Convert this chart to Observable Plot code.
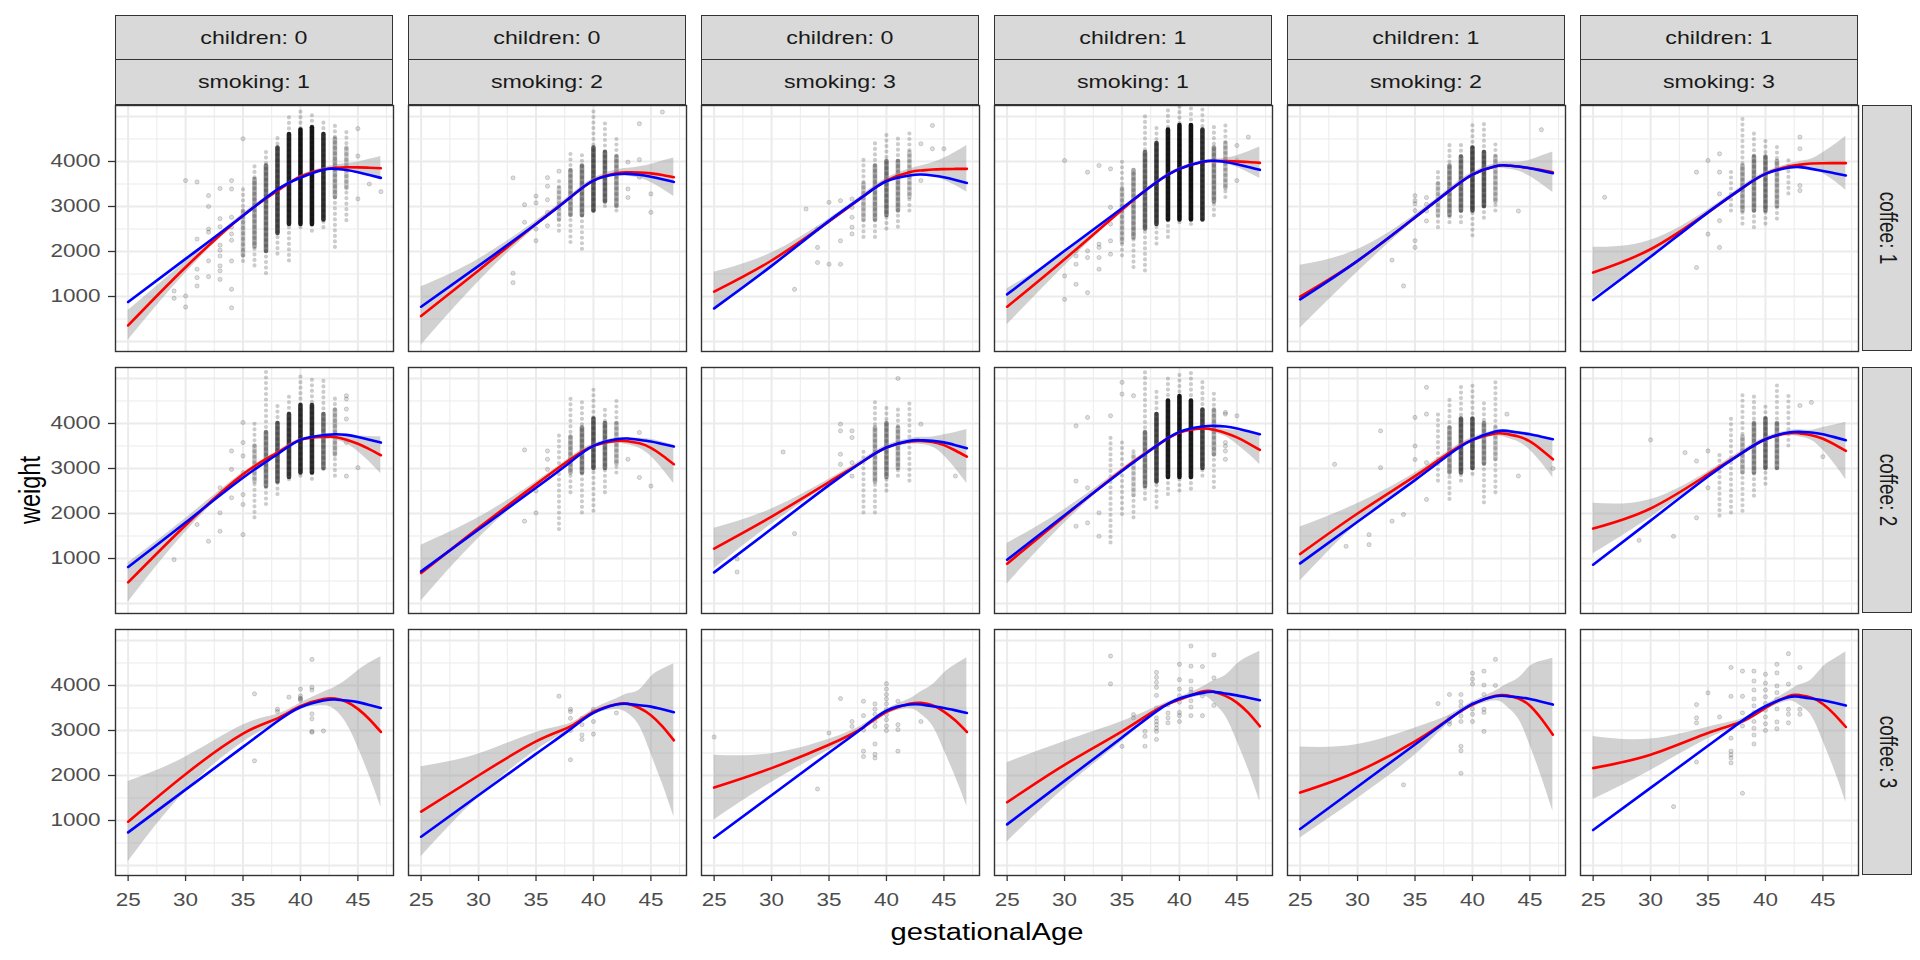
<!DOCTYPE html>
<html>
<head>
<meta charset="utf-8">
<script src="https://cdn.jsdelivr.net/npm/d3@7"></script>
<script src="https://cdn.jsdelivr.net/npm/@observablehq/plot@0.6"></script>
<style>
  body { margin: 0; background: #fff; font-family: "Liberation Sans", Arial, sans-serif; }
  #wrap { position: relative; width: 1920px; height: 960px; overflow: hidden; }
  #wrap svg { position: absolute; left: 0; top: 0; }
  .strip { position: absolute; box-sizing: border-box; background: #d9d9d9; border: 1.3px solid #333;
           color: #1a1a1a; font-size: 19px; display: flex; align-items: center; justify-content: center; white-space: nowrap; }
  .strip span { display: inline-block; transform: scaleX(1.22); }
  .strip.v span { transform: rotate(90deg) scaleY(1.22); }
  .title { position: absolute; font-size: 23.5px; color: #000; white-space: nowrap; }
</style>
</head>
<body>
<div id="wrap"></div>
<script>
// ---------- facet levels ----------
const childrenLevels = [0, 0, 0, 1, 1, 1];
const smokingLevels  = [1, 2, 3, 1, 2, 3];
const coffeeLevels   = [1, 2, 3];

// ---------- axis ticks ----------
const xTicks = [25, 30, 35, 40, 45];
const xMinor = [27.5, 32.5, 37.5, 42.5, 47.5];
const yTicks = [1000, 2000, 3000, 4000];
const yMajorGrid = [0, 1000, 2000, 3000, 4000, 5000];
const yMinorGrid = [500, 1500, 2500, 3500, 4500];

// ---------- fitted curves (panel order: coffee row, then children/smoking column) ----------
const weeks = [25, 30, 35, 38, 40, 42, 43, 44, 45, 46, 47];
const redFit = [
  [357,1650,2800,3350,3665,3822,3860,3873,3870,3862,3851],
  [565,1580,2610,3204,3576,3740,3760,3755,3735,3700,3650],
  [1108,1800,2670,3230,3576,3762,3800,3822,3830,3835,3836],
  [773,1829,2930,3539,3836,3990,4010,4010,4000,3988,3970],
  [996,1792,2758,3353,3710,3896,3911,3888,3850,3810,3760],
  [1532,2050,2870,3413,3725,3889,3930,3955,3962,3964,3963],
  [468,1740,2870,3353,3636,3700,3700,3640,3550,3430,3294],
  [677,1680,2647,3204,3502,3613,3605,3560,3460,3290,3093],
  [1220,1930,2700,3167,3465,3599,3613,3590,3520,3400,3264],
  [885,1940,2960,3502,3799,3889,3860,3790,3690,3560,3413],
  [1100,2000,2830,3353,3636,3777,3765,3710,3600,3415,3204],
  [1665,2111,2870,3353,3650,3784,3780,3740,3660,3535,3390],
  [974,2030,2930,3270,3539,3700,3710,3640,3480,3250,2967],
  [1197,2000,2758,3093,3413,3585,3595,3500,3340,3090,2781],
  [1732,2164,2684,3071,3413,3591,3613,3560,3420,3220,2967],
  [1405,2238,2981,3465,3688,3865,3860,3770,3620,3390,3093],
  [1621,2089,2758,3264,3576,3770,3780,3710,3550,3260,2907],
  [2164,2461,2944,3204,3502,3762,3784,3730,3590,3360,3078]
];
const blueFit = [
  [877,1836,2796,3380,3640,3815,3836,3810,3760,3700,3636],
  [773,1680,2610,3204,3576,3715,3725,3705,3660,3605,3545],
  [736,1680,2680,3230,3560,3690,3710,3690,3650,3590,3524],
  [1048,2015,2960,3539,3836,3995,4015,3990,3940,3880,3814],
  [937,1792,2758,3353,3710,3896,3911,3888,3850,3797,3740],
  [922,1882,2870,3413,3725,3859,3874,3836,3790,3740,3688],
  [810,1800,2795,3316,3636,3740,3762,3747,3700,3640,3576],
  [714,1643,2572,3145,3502,3650,3665,3636,3600,3545,3487],
  [691,1660,2630,3167,3465,3613,3628,3613,3580,3518,3450],
  [974,1960,2944,3502,3814,3933,3948,3933,3890,3828,3762],
  [892,1817,2742,3316,3636,3822,3836,3799,3760,3707,3650],
  [862,1842,2822,3353,3650,3799,3814,3799,3760,3697,3628],
  [736,1686,2636,3206,3517,3665,3688,3665,3630,3568,3502],
  [639,1560,2480,3030,3390,3576,3591,3561,3530,3470,3405],
  [617,1562,2507,3074,3442,3576,3576,3539,3500,3447,3390],
  [914,1880,2845,3425,3710,3836,3859,3822,3780,3728,3673],
  [810,1750,2690,3256,3591,3762,3762,3740,3700,3640,3576],
  [788,1724,2660,3220,3539,3740,3747,3710,3670,3614,3554]
];
const bandHalf = [
  [330,130,45,35,30,40,55,80,120,185,260],
  [650,250,70,50,50,70,90,130,200,310,430],
  [430,170,60,50,50,70,100,150,240,370,520],
  [400,150,40,30,30,30,40,60,130,230,350],
  [700,250,60,50,50,60,80,100,180,310,450],
  [560,200,60,50,40,50,70,100,230,400,600],
  [440,150,40,30,30,40,60,90,170,280,410],
  [620,230,60,45,45,60,80,110,190,300,430],
  [450,170,60,50,50,60,80,110,230,400,600],
  [450,150,40,30,30,40,60,80,150,235,330],
  [600,220,70,50,50,60,90,120,190,290,410],
  [560,200,60,50,45,55,80,110,250,430,640],
  [890,380,190,90,70,150,250,480,850,1250,1670],
  [1000,480,200,70,60,120,220,400,850,1270,1700],
  [720,320,120,60,60,110,250,450,850,1240,1650],
  [880,520,220,60,50,100,250,450,850,1250,1670],
  [1010,600,300,80,60,110,250,450,870,1280,1700],
  [700,350,130,60,55,110,230,400,820,1230,1670]
];

// ---------- observations: isolated points [week, weight] ----------
const scatterPoints = [
  [[29,1123],[29,960],[30,3576],[30,1011],[30,766],[31,3546],[31,2275],[31,1606],[31,1420],[31,1234],[32,3242],[32,3000],[32,2500],[32,2430],[32,1792],[32,1440],[33,3400],[33,2730],[33,2550],[33,2140],[33,2030],[33,1900],[33,1680],[33,1570],[33,1380],[34,3576],[34,3390],[34,2760],[34,2540],[34,2390],[34,2250],[34,1790],[34,1160],[34,750],[35,4505],[45,4730],[45,4120],[45,3170],[46,3500],[47,3330]],
  [[33,3636],[33,1517],[33,1308],[34,3040],[34,2650],[35,3230],[35,3080],[35,2500],[35,2240],[36,3640],[36,3450],[36,3150],[36,2870],[36,2570],[37,3784],[43,3390],[43,3200],[43,3985],[44,4840],[44,4040],[44,3650],[45,3280],[45,2870],[46,5100]],
  [[32,1160],[33,2944],[34,2498],[34,2090],[34,1755],[35,3093],[35,1717],[36,3130],[36,2238],[36,1717],[37,3167],[37,2980],[37,2760],[37,2540],[37,2390],[43,4394],[43,3576],[44,4800],[44,4283],[45,4283]],
  [[30,4022],[30,1457],[30,937],[31,2015],[31,1900],[31,1717],[31,1271],[32,3762],[32,2015],[32,1866],[32,1085],[33,3911],[33,2164],[33,2090],[33,1866],[33,1606],[34,3836],[34,2980],[34,2610],[34,2238],[34,1940],[45,4355],[45,4022],[45,3576],[46,4543]],
  [[33,1807],[34,1234],[35,3240],[35,3130],[35,3060],[35,2910],[35,2240],[35,2090],[36,3200],[36,3050],[36,2900],[36,2680],[44,2900],[46,4706]],
  [[26,3204],[34,3762],[34,1643],[35,4022],[35,2386],[36,4171],[36,3762],[36,3280],[36,2684],[36,2090],[43,4543],[43,4283],[43,3465],[43,3353]],
  [[29,974],[31,1755],[32,1383],[33,2572],[33,2015],[33,1606],[34,3390],[34,2980],[34,2350],[35,4022],[35,3576],[35,3280],[35,2910],[35,2420],[35,2200],[35,1532],[44,4617],[44,4543],[44,4320],[44,4100],[44,3576],[44,2830],[45,3019]],
  [[34,3413],[34,1829],[35,2500],[35,2015],[36,3390],[36,3204],[36,2980],[36,2800],[43,3204],[44,3800],[44,2800],[45,2610]],
  [[27,989],[27,700],[31,3368],[32,1554],[36,3985],[36,3836],[36,3316],[36,3093],[37,3836],[37,3688],[37,3130],[37,2830],[41,5000],[43,3985],[46,2833]],
  [[31,3948],[31,2721],[31,1717],[32,4134],[32,2572],[32,1792],[33,2015],[33,1494],[34,4171],[35,4914],[35,4654],[36,4617],[44,4245],[44,4208],[44,3576],[44,3500],[44,3390],[44,3204],[45,4171]],
  [[28,3093],[29,1271],[31,1530],[31,1308],[32,3836],[32,3019],[33,1829],[34,1978],[35,4134],[35,3500],[35,3200],[35,2800],[36,4803],[36,4208],[36,3130],[36,2312],[43,4208],[44,2833],[47,3000]],
  [[29,1405],[30,3636],[32,1494],[33,3353],[34,3167],[34,1903],[35,3390],[35,2572],[43,4400],[44,4468],[45,3264]],
  [[36,3814],[36,2327],[38,3470],[38,3420],[39,3740],[40,3920],[40,3770],[40,3720],[40,3700],[40,3670],[41,4580],[41,3960],[41,3900],[41,3370],[41,3260],[41,2980],[41,2960],[42,2990]],
  [[37,3762],[38,3470],[38,3420],[38,3270],[38,3000],[38,2350],[39,3270],[39,3130],[39,2900],[39,2800],[40,3470],[40,3420],[40,3200],[40,2920],[42,3390]],
  [[25,2855],[34,1700],[35,2944],[36,3710],[37,3200],[37,3090],[38,3650],[38,3330],[38,3010],[38,2540],[38,2420],[39,3590],[39,3470],[39,3360],[39,3200],[39,3090],[39,2700],[39,2470],[39,2390],[40,4040],[40,3920],[40,3800],[40,3700],[40,3590],[40,3470],[40,3350],[40,3240],[40,3100],[40,3000],[41,3650],[41,3130],[41,3020],[41,2540],[43,3200]],
  [[34,4654],[34,4037],[35,2647],[36,3353],[36,3280],[37,2980],[37,2870],[37,2650],[38,4290],[38,4180],[38,4070],[38,3960],[38,3780],[38,3500],[38,3280],[38,3200],[38,3130],[38,3050],[38,2980],[38,2800],[39,3570],[39,3390],[39,3280],[39,3170],[40,4470],[40,4130],[40,3920],[40,3770],[40,3630],[40,3400],[40,3330],[40,3200],[41,4877],[41,4430],[41,4100],[41,3920],[41,3850],[41,3660],[41,3520],[41,3330],[42,4420],[42,3770],[42,3330],[43,4680],[43,4170],[43,3560]],
  [[34,1792],[37,3599],[38,3800],[38,3280],[38,3200],[38,3140],[39,3800],[39,3640],[39,3540],[39,3430],[39,3320],[39,3200],[39,2650],[39,2550],[39,2050],[40,4270],[40,4140],[40,4030],[40,3590],[40,3480],[40,3360],[40,3200],[41,4320],[41,4010],[41,3800],[41,3470],[41,3400],[41,2980],[42,4580],[42,4000]],
  [[32,1308],[34,3576],[34,3280],[34,3170],[34,2300],[35,3836],[36,3300],[37,4400],[37,3760],[37,2830],[37,2540],[37,2460],[37,2390],[37,2280],[38,4320],[38,3760],[38,3390],[38,3100],[38,1606],[39,4320],[39,4100],[39,3900],[39,3700],[39,3550],[39,3400],[39,3200],[39,3050],[39,2900],[39,2700],[40,4250],[40,4050],[40,3900],[40,3750],[40,3600],[40,3450],[40,3300],[40,3150],[40,3000],[41,4470],[41,4280],[41,3990],[41,3840],[41,3700],[41,3480],[41,3190],[41,3040],[42,4706],[42,4030],[42,3470],[42,3360],[42,3170],[43,4400],[43,3470],[43,3360]]
];

// ---------- observations: crowded weeks [week, min, max, coreLow, coreHigh, coreDensity] ----------
const scatterColumns = [
  [[35,1780,3400,1900,2900,0.22],[36,1680,4000,2100,3600,0.35],[37,1510,4260,2000,3900,0.5],[38,1940,4620,2400,4300,0.7],[39,1790,5000,2600,4600,0.85],[40,2530,5120,2600,4700,0.9],[41,2450,5100,2600,4750,0.9],[42,2530,4950,2700,4600,0.8],[43,2090,4800,3200,4500,0.3],[44,2685,4680,3400,4300,0.2]],
  [[37,2450,3600,2700,3400,0.2],[38,2200,4245,2800,3800,0.35],[39,2050,4245,2800,3900,0.45],[40,2900,5138,2900,4300,0.6],[41,3000,4914,3100,4200,0.55],[42,2900,4505,3000,4100,0.35]],
  [[38,2312,4059,2700,3500,0.22],[39,2312,4505,2700,3900,0.35],[40,2498,4617,2800,4000,0.45],[41,2540,4617,2900,4000,0.35],[42,2900,4728,3200,4200,0.22]],
  [[35,1903,3985,2200,3400,0.22],[36,1643,3800,2300,3800,0.35],[37,1569,5063,2500,4200,0.55],[38,2164,4840,2600,4400,0.75],[39,2312,5175,2700,4700,0.9],[40,2640,5212,2700,4800,0.92],[41,2600,5220,2700,4800,0.92],[42,2700,5200,2700,4700,0.8],[43,2796,4840,3100,4300,0.4],[44,3200,4800,3400,4400,0.25]],
  [[37,2530,3800,2800,3500,0.2],[38,2640,4468,2800,3900,0.4],[39,2640,4430,2900,4100,0.5],[40,2350,4877,2900,4300,0.65],[41,2740,4914,3000,4200,0.6],[42,2900,4430,3100,4100,0.25]],
  [[37,2900,3874,0,0,0],[38,2610,4950,2900,3900,0.3],[39,2530,4617,2900,4100,0.4],[40,2610,4468,2900,4100,0.45],[41,2720,4394,3000,4000,0.3],[42,3280,4134,0,0,0]],
  [[36,1903,3985,2700,3500,0.22],[37,2200,5175,2600,3800,0.45],[38,2420,4431,2700,4000,0.6],[39,2750,4654,2800,4200,0.75],[40,2830,5063,2900,4400,0.8],[41,2760,5063,2900,4400,0.8],[42,2980,4990,3000,4200,0.5],[43,2830,4543,3300,4300,0.25]],
  [[37,1643,3836,0,0,0],[38,2460,4543,2900,3700,0.3],[39,2015,4468,2900,3900,0.45],[40,2050,4803,3000,4100,0.6],[41,2460,4394,3000,4000,0.5],[42,2900,4543,3100,4000,0.25]],
  [[38,2015,3420,0,0,0],[39,2015,4505,2700,3900,0.3],[40,2498,4430,2800,4000,0.4],[41,2830,4355,3000,3900,0.3],[42,2721,4505,0,0,0]],
  [[34,1346,3700,0,0,0],[35,1978,3600,0,0,0],[36,1903,3460,2400,3300,0.15],[37,2312,5212,2600,3800,0.45],[38,2126,4766,2700,4200,0.7],[39,2420,5063,2800,4500,0.88],[40,2500,5175,2800,4600,0.9],[41,2540,5212,2800,4500,0.88],[42,2830,4990,3000,4300,0.7],[43,2572,4766,3300,4300,0.3]],
  [[37,2720,4245,0,0,0],[38,2312,4543,2900,3900,0.35],[39,2720,4840,2900,4100,0.6],[40,2870,4840,3000,4100,0.6],[41,2238,4543,3100,4000,0.4],[42,2460,4990,3200,3900,0.2]],
  [[36,1940,3390,0,0,0],[37,2015,4171,0,0,0],[38,2050,4617,2900,3700,0.25],[39,2386,4654,2900,4000,0.4],[40,2650,4468,3000,4100,0.5],[41,3000,4840,3000,4000,0.4],[42,3500,4617,0,0,0]],
  [], [], [], [], [], []
];

// ---------- build tables for the library ----------
const colKeys = childrenLevels.map((c, i) => `${c}-${smokingLevels[i]}`);
const panelOf = p => ({fx: colKeys[p % 6], fy: coffeeLevels[Math.floor(p / 6)]});

const curveRows = [], bandRows = [], pointRows = [], columnRows = [];
for (let p = 0; p < 18; p++) {
  const f = panelOf(p);
  weeks.forEach((w, i) => {
    curveRows.push({...f, w, red: redFit[p][i], blue: blueFit[p][i]});
    bandRows.push({...f, w, lo: redFit[p][i] - bandHalf[p][i], hi: redFit[p][i] + bandHalf[p][i]});
  });
  scatterPoints[p].forEach(([w, v]) => pointRows.push({...f, w, v}));
  scatterColumns[p].forEach(([w, lo, hi, cLo, cHi, a]) => columnRows.push({...f, w, lo, hi, cLo, cHi, a}));
}
const coreRows = columnRows.filter(d => d.a > 0);

const gridColor = "#ebebeb";
const chart = Plot.plot({
  width: 1920,
  height: 960,
  marginLeft: 115,
  marginRight: 62,
  marginTop: 105,
  marginBottom: 85,
  style: {fontFamily: "Liberation Sans, Arial, sans-serif", background: "transparent"},
  fx: {domain: colKeys, paddingInner: 15 / 293, paddingOuter: 0, axis: null},
  fy: {domain: coffeeLevels, paddingInner: 16 / 262, paddingOuter: 0, axis: null},
  x: {domain: [23.9, 48.1]},
  y: {domain: [-222, 5244]},
  opacity: {type: "identity"},
  marks: [
    Plot.gridX({ticks: xMinor, stroke: gridColor, strokeOpacity: 1, strokeWidth: 1}),
    Plot.gridY({ticks: yMinorGrid, stroke: gridColor, strokeOpacity: 1, strokeWidth: 1}),
    Plot.gridX({ticks: xTicks, stroke: gridColor, strokeOpacity: 1, strokeWidth: 2}),
    Plot.gridY({ticks: yMajorGrid, stroke: gridColor, strokeOpacity: 1, strokeWidth: 2}),
    Plot.ruleX(columnRows, {x: "w", y1: "lo", y2: "hi", fx: "fx", fy: "fy", stroke: "#000", strokeOpacity: 0.2,
      strokeWidth: 4.2, strokeLinecap: "round", strokeDasharray: "0 5.5"}),
    Plot.ruleX(coreRows, {x: "w", y1: "cLo", y2: "cHi", fx: "fx", fy: "fy", stroke: "#000", strokeOpacity: "a",
      strokeWidth: 4.6, strokeLinecap: "round"}),
    Plot.dot(pointRows, {x: "w", y: "v", fx: "fx", fy: "fy", r: 2.1, fill: "#000", fillOpacity: 0.13,
      stroke: "#000", strokeOpacity: 0.2, strokeWidth: 0.8}),
    Plot.areaY(bandRows, {x: "w", y1: "lo", y2: "hi", fx: "fx", fy: "fy", fill: "#999", fillOpacity: 0.45, curve: "natural"}),
    Plot.line(curveRows, {x: "w", y: "red", fx: "fx", fy: "fy", stroke: "#ff0000", strokeWidth: 2.6, curve: "natural"}),
    Plot.line(curveRows, {x: "w", y: "blue", fx: "fx", fy: "fy", stroke: "#0000ff", strokeWidth: 2.6, curve: "natural"}),
    Plot.frame({stroke: "#333", strokeWidth: 1.4}),
    Plot.axisX({ticks: xTicks, tickFormat: "d", tickSize: 6, tickPadding: 11, stroke: "#333", strokeWidth: 1.3, fill: "#4d4d4d",
      fontSize: 18.6, label: null, facetAnchor: "bottom"}),
    Plot.axisY({ticks: yTicks, tickFormat: "d", tickSize: 7, tickPadding: 8, stroke: "#333", strokeWidth: 1.3, fill: "#4d4d4d",
      fontSize: 18.6, label: null, facetAnchor: "left"})
  ]
});

// the reference's lettering is drawn wider than tall: widen tick labels about their anchor
chart.querySelectorAll('[aria-label="x-axis tick label"] text, [aria-label="y-axis tick label"] text').forEach(t => {
  const x = +t.getAttribute("x") || 0, y = +t.getAttribute("y") || 0;
  const prev = t.getAttribute("transform") || "";
  t.setAttribute("transform", `${prev} translate(${x},${y}) scale(1.21,1) translate(${-x},${-y})`);
});

const wrap = document.getElementById("wrap");
wrap.appendChild(chart);

// ---------- strips and axis titles ----------
const left0 = 115, pitchX = 293, panelW = 278, top0 = 105, pitchY = 262, panelH = 246;
function addDiv(cls, text, css) {
  const d = document.createElement("div");
  d.className = cls;
  const s = document.createElement("span");
  s.textContent = text;
  d.appendChild(s);
  Object.assign(d.style, css);
  wrap.appendChild(d);
  return d;
}
colKeys.forEach((k, j) => {
  const L = left0 + j * pitchX;
  addDiv("strip", `children: ${childrenLevels[j]}`, {left: L + "px", top: "15px", width: panelW + "px", height: "45px"});
  addDiv("strip", `smoking: ${smokingLevels[j]}`, {left: L + "px", top: "59px", width: panelW + "px", height: "46px"});
});
coffeeLevels.forEach((c, i) => {
  addDiv("strip v", `coffee: ${c}`, {left: "1862px", top: (top0 + i * pitchY) + "px", width: "50px", height: panelH + "px"});
});
const xt = addDiv("title", "gestationalAge", {left: "987px", top: "932px"});
xt.style.transform = "translate(-50%, -50%) scaleX(1.24)";
const yt = addDiv("title", "weight", {left: "31px", top: "490px"});
yt.style.transform = "translate(-50%, -50%) rotate(-90deg) scaleY(1.24)";
</script>
</body>
</html>
